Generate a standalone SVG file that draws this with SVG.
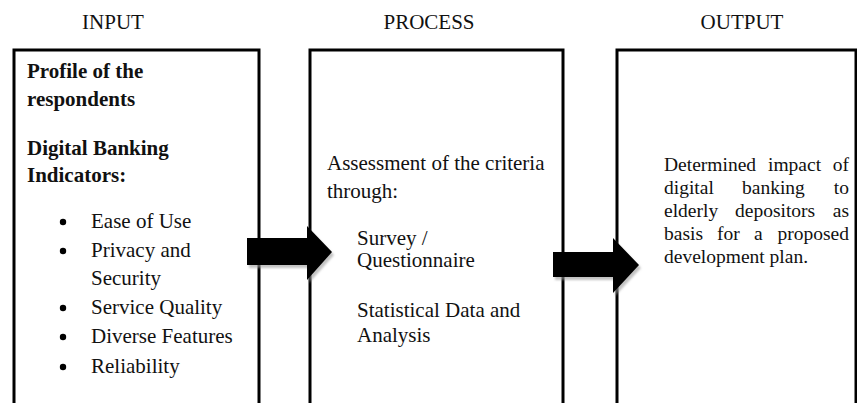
<svg xmlns="http://www.w3.org/2000/svg" width="857" height="403" viewBox="0 0 857 403">
  <style>
    text { font-family: "Liberation Serif", "Times New Roman", serif; font-size: 21px; fill: #111; }
    .title { text-anchor: middle; }
    .b { font-weight: bold; }
    .end { text-anchor: end; }
    .sm { font-size: 19.5px; }
    .box { fill: #fff; stroke: #000; stroke-width: 3; }
    .arrow { fill: #000; }
    .shadow { fill: #9a9a9a; opacity: 0.6; }
  </style>
  <defs>
    <filter id="soft" x="-20%" y="-20%" width="140%" height="140%">
      <feGaussianBlur stdDeviation="1.2"/>
    </filter>
  </defs>

  <!-- column headings -->
  <text class="title" x="113" y="29">INPUT</text>
  <text class="title" x="429" y="29">PROCESS</text>
  <text class="title" x="742" y="29">OUTPUT</text>

  <!-- INPUT box -->
  <g id="input">
    <rect class="box" x="14" y="50" width="245" height="380"/>
    <text class="b" x="27" y="78">Profile of the</text>
    <text class="b" x="27" y="106">respondents</text>
    <text class="b" x="27" y="155">Digital Banking</text>
    <text class="b" x="27" y="182">Indicators:</text>
    <g fill="#000">
      <circle cx="63" cy="222" r="3.2"/>
      <circle cx="63" cy="251" r="3.2"/>
      <circle cx="63" cy="308" r="3.2"/>
      <circle cx="63" cy="337" r="3.2"/>
      <circle cx="63" cy="367" r="3.2"/>
    </g>
    <text x="91" y="228">Ease of Use</text>
    <text x="91" y="257">Privacy and</text>
    <text x="91" y="285">Security</text>
    <text x="91" y="314">Service Quality</text>
    <text x="91" y="343">Diverse Features</text>
    <text x="91" y="373">Reliability</text>
  </g>

  <!-- PROCESS box -->
  <g id="process">
    <rect class="box" x="310" y="50" width="253" height="380"/>
    <text x="327" y="170">Assessment of the criteria</text>
    <text x="327" y="198">through:</text>
    <text x="357" y="245">Survey /</text>
    <text x="357" y="267">Questionnaire</text>
    <text x="357" y="317">Statistical Data and</text>
    <text x="357" y="342">Analysis</text>
  </g>

  <!-- OUTPUT box: justified paragraph, words placed one by one -->
  <g id="output">
    <rect class="box" x="617" y="50" width="239" height="380"/>
    <text class="sm" x="664" y="171">Determined</text>
    <text class="sm" x="768" y="171">impact</text>
    <text class="sm end" x="849" y="171">of</text>
    <text class="sm" x="664" y="194">digital</text>
    <text class="sm" x="742" y="194">banking</text>
    <text class="sm end" x="849" y="194">to</text>
    <text class="sm" x="664" y="217">elderly</text>
    <text class="sm" x="735" y="217">depositors</text>
    <text class="sm end" x="849" y="217">as</text>
    <text class="sm" x="664" y="240">basis</text>
    <text class="sm" x="717" y="240">for</text>
    <text class="sm" x="754" y="240">a</text>
    <text class="sm end" x="849" y="240">proposed</text>
    <text class="sm" x="664" y="263">development plan.</text>
  </g>

  <!-- block arrows between the stages -->
  <g id="connectors">
    <g filter="url(#soft)">
      <polygon class="shadow" points="249,241 309,241 309,229 334,255 309,283 309,268 249,268"/>
      <polygon class="shadow" points="555,255 615,255 615,241 641,268 615,296 615,280 555,280"/>
    </g>
    <polygon class="arrow" points="247,238 307,238 307,226 332,252 307,280 307,265 247,265"/>
    <polygon class="arrow" points="553,252 613,252 613,238 639,265 613,293 613,277 553,277"/>
  </g>
</svg>
